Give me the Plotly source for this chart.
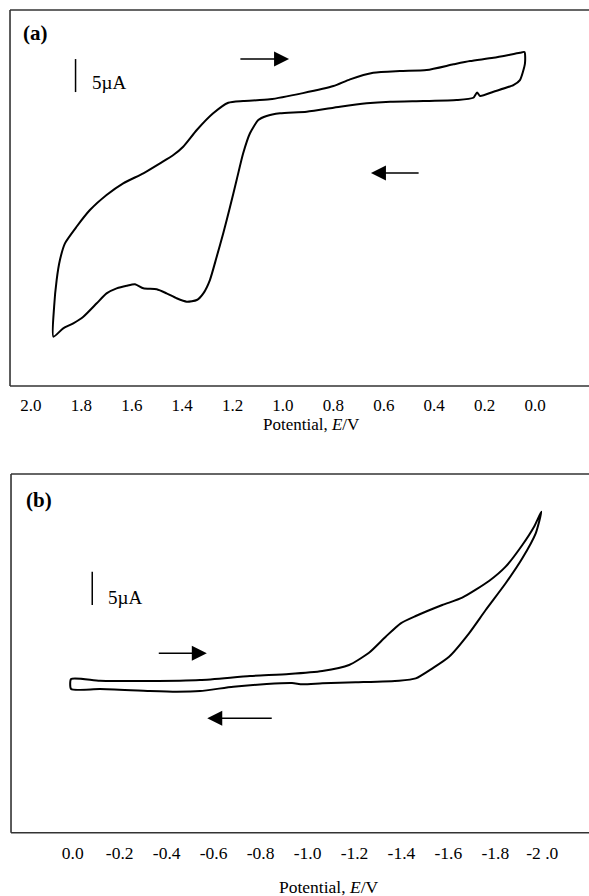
import plotly.graph_objects as go

# ---------------- Panel (a): potential (V) and current (uA) ----------------
pot_a = [1.911, 1.908, 1.898, 1.885, 1.865, 1.819, 1.766, 1.700, 1.634, 1.554,
         1.488, 1.435, 1.396, 1.342, 1.277, 1.217, 1.158, 1.052, 0.921, 0.800,
         0.734, 0.642, 0.536, 0.430, 0.324, 0.258, 0.165, 0.060, 0.042,
         0.040, 0.060, 0.086, 0.165, 0.218, 0.230, 0.245, 0.311, 0.443, 0.575,
         0.668, 0.774, 0.906, 1.012, 1.065, 1.098, 1.131, 1.158, 1.184, 1.210,
         1.237, 1.263, 1.290, 1.316, 1.342, 1.382, 1.422, 1.462, 1.501, 1.554,
         1.587, 1.620, 1.660, 1.700, 1.739, 1.792, 1.832, 1.872, 1.911]
cur_a = [-20.71, -16.17, -12.12, -9.09, -6.56, -4.05, -1.52, 0.76, 2.53, 4.05,
         5.56, 6.82, 8.08, 10.61, 13.14, 14.74, 15.00, 15.26, 16.20, 17.27,
         18.29, 19.29, 19.55, 19.70, 20.56, 21.06, 21.56, 22.32, 22.42,
         20.71, 18.18, 17.42, 16.41, 15.76, 16.30, 15.50, 15.15, 15.00, 14.89,
         14.65, 14.14, 13.38, 13.14, 12.73, 12.12, 10.11, 7.08, 3.03, -1.02,
         -5.05, -8.59, -12.12, -14.14, -15.15, -15.41, -14.89, -14.14, -13.53, -13.38,
         -12.77, -12.98, -13.38, -14.14, -15.65, -17.68, -18.68, -19.44, -20.71]

ticks_a = [2.0, 1.8, 1.6, 1.4, 1.2, 1.0, 0.8, 0.6, 0.4, 0.2, 0.0]
ticktext_a = ["2.0", "1.8", "1.6", "1.4", "1.2", "1.0", "0.8", "0.6", "0.4", "0.2", "0.0"]

# ---------------- Panel (b) ----------------
pot_b = [0.007, -0.116, -0.329, -0.542, -0.755, -0.921, -1.063, -1.177, -1.262, -1.333,
         -1.397, -1.461, -1.574, -1.659, -1.773, -1.844, -1.915, -1.965, -1.996,
         -1.972, -1.915, -1.844, -1.759, -1.688, -1.603, -1.532, -1.461, -1.390,
         -1.205, -1.063, -0.978, -0.934, -0.826, -0.684, -0.542, -0.443, -0.329,
         -0.116, 0.007, 0.007]
cur_b = [1.65, 1.39, 1.35, 1.50, 2.10, 2.40, 2.85, 3.75, 5.59, 7.99,
         10.00, 11.09, 12.74, 13.84, 16.34, 18.49, 21.74, 24.48, 26.73,
         23.49, 19.75, 16.00, 11.99, 8.50, 4.99, 3.25, 1.75, 1.39,
         1.15, 1.00, 0.85, 1.05, 0.90, 0.49, -0.15, -0.25, -0.15,
         0.15, 0.15, 1.65]

ticks_b = [0.0, -0.2, -0.4, -0.6, -0.8, -1.0, -1.2, -1.4, -1.6, -1.8, -2.0]
ticktext_b = ["0.0", "-0.2", "-0.4", "-0.6", "-0.8", "-1.0", "-1.2", "-1.4", "-1.6", "-1.8", "-2 .0"]

# scale bars (5 uA) and scan-direction arrows: (x_tail, x_head, y)
bar_a = (1.823, 16.36, 21.36)
bar_b = (-0.083, 12.74, 17.74)
arrows_a = [(1.175, 0.976, 21.36), (0.456, 0.651, 4.09)]
arrows_b = [(-0.360, -0.571, 5.50), (-0.854, -0.573, -4.24)]

FONT = "Liberation Serif"
fig = go.Figure()
fig.add_trace(go.Scatter(x=pot_a, y=cur_a, mode="lines",
                         line=dict(color="black", width=2, shape="spline", smoothing=0.6),
                         xaxis="x", yaxis="y", showlegend=False, hoverinfo="skip"))
fig.add_trace(go.Scatter(x=pot_b, y=cur_b, mode="lines",
                         line=dict(color="black", width=2, shape="spline", smoothing=0.6),
                         xaxis="x2", yaxis="y2", showlegend=False, hoverinfo="skip"))

axis_common = dict(showgrid=False, zeroline=False, showline=False)
fig.update_layout(
    width=589, height=896, margin=dict(l=0, r=0, t=0, b=0),
    paper_bgcolor="white", plot_bgcolor="white",
    font=dict(family=FONT, color="black", size=17),
    xaxis=dict(domain=[0.017, 1.0], range=[2.083, -0.214], tickvals=ticks_a, ticktext=ticktext_a,
               ticks="outside", ticklen=4, tickcolor="rgba(0,0,0,0)",
               tickfont=dict(family=FONT, size=17), anchor="y", **axis_common),
    yaxis=dict(domain=[0.5692, 0.9888], range=[-28.18, 28.79], showticklabels=False,
               anchor="x", **axis_common),
    xaxis2=dict(domain=[0.0187, 1.0], range=[0.263, -2.199], tickvals=ticks_b, ticktext=ticktext_b,
                ticks="outside", ticklen=4, tickcolor="rgba(0,0,0,0)",
                tickfont=dict(family=FONT, size=17.5), anchor="y2", **axis_common),
    yaxis2=dict(domain=[0.0706, 0.4710], range=[-21.39, 32.38], showticklabels=False,
                anchor="x2", **axis_common),
)

shapes = []
for xr, yr in (("x", "y"), ("x2", "y2")):
    for (x0, y0, x1, y1) in ((0, 0, 0, 1), (0, 1, 1, 1), (0, 0, 1, 0)):
        shapes.append(dict(type="line", xref=xr + " domain", yref=yr + " domain",
                           x0=x0, y0=y0, x1=x1, y1=y1, line=dict(color="#333333", width=1.6)))
for (bx, b0, b1), xr, yr in ((bar_a, "x", "y"), (bar_b, "x2", "y2")):
    shapes.append(dict(type="line", xref=xr, yref=yr, x0=bx, x1=bx, y0=b0, y1=b1,
                       line=dict(color="black", width=1.5)))
fig.update_layout(shapes=shapes)

ann = []
for arrs, xr, yr in ((arrows_a, "x", "y"), (arrows_b, "x2", "y2")):
    for (xt, xh, yv) in arrs:
        ann.append(dict(x=xh, y=yv, ax=xt, ay=yv, xref=xr, yref=yr, axref=xr, ayref=yr,
                        showarrow=True, arrowhead=2, arrowsize=2.0, arrowwidth=1.5,
                        arrowcolor="black", text=""))
ann += [
    dict(x=1.766, y=17.80, xref="x", yref="y", text="5µA", showarrow=False,
         xanchor="left", yanchor="middle", font=dict(family=FONT, size=19)),
    dict(x=-0.142, y=13.94, xref="x2", yref="y2", text="5µA", showarrow=False,
         xanchor="left", yanchor="middle", font=dict(family=FONT, size=19)),
    dict(x=0.0611, y=0.9632, xref="paper", yref="paper", text="<b>(a)</b>", showarrow=False,
         xanchor="center", yanchor="middle", font=dict(family=FONT, size=21)),
    dict(x=0.0662, y=0.4420, xref="paper", yref="paper", text="<b>(b)</b>", showarrow=False,
         xanchor="center", yanchor="middle", font=dict(family=FONT, size=21)),
    dict(x=0.5297, y=0.5257, xref="paper", yref="paper", text="Potential, <i>E</i>/V",
         showarrow=False, xanchor="center", yanchor="middle", font=dict(family=FONT, size=17)),
    dict(x=0.5586, y=0.0104, xref="paper", yref="paper", text="Potential, <i>E</i>/V",
         showarrow=False, xanchor="center", yanchor="middle", font=dict(family=FONT, size=17.5)),
]
fig.update_layout(annotations=ann)

fig.write_html("out.html", config={"displayModeBar": False},
               post_script="document.body.style.margin='0';")
